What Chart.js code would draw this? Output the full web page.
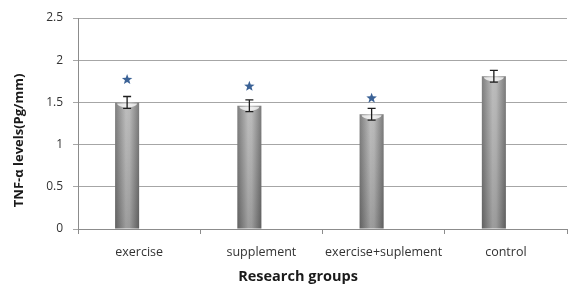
<!DOCTYPE html>
<html>
<head>
<meta charset="utf-8">
<script src="https://cdn.jsdelivr.net/npm/chart.js@4/dist/chart.umd.min.js"></script>
<style>
  html, body { margin: 0; padding: 0; background: #fff; }
  #wrap { width: 568px; height: 286px; }
</style>
</head>
<body>
<div id="wrap"><canvas id="tnfChart"></canvas></div>
<script>
const groups = ['exercise', 'supplement', 'exercise+suplement', 'control'];
const tnfLevels = [1.5, 1.46, 1.36, 1.81];
const tnfErrors = [0.07, 0.07, 0.07, 0.07];
const starLevels = [1.77, 1.69, 1.55, null];
const yTicks = [0, 0.5, 1, 1.5, 2, 2.5];

// error bars, stars and the bar shading
const barDecor = {
  id: 'barDecor',
  beforeDatasetsDraw(chart) {
    const c = chart.ctx;
    const meta = chart.getDatasetMeta(0);
    meta.data.forEach(function(bar) {
      const left = bar.x - bar.width / 2;
      const g = c.createLinearGradient(left, 0, left + bar.width, 0);
      g.addColorStop(0, '#707070');
      g.addColorStop(0.45, '#b6b6b6');
      g.addColorStop(0.6, '#b2b2b2');
      g.addColorStop(1, '#6c6c6c');
      bar.options.backgroundColor = g;
    });
  },
  afterDatasetsDraw(chart) {
    const c = chart.ctx;
    const y = chart.scales.y;
    const meta = chart.getDatasetMeta(0);
    c.save();
    meta.data.forEach(function(bar, i) {
      const left = bar.x - bar.width / 2;
      // darken toward the base
      const v = c.createLinearGradient(0, bar.y, 0, bar.base);
      v.addColorStop(0, 'rgba(255,255,255,0.1)');
      v.addColorStop(1, 'rgba(0,0,0,0.14)');
      c.fillStyle = v;
      c.fillRect(left, bar.y, bar.width, bar.base - bar.y);
      // light rim at the top
      c.fillStyle = 'rgba(255,255,255,0.75)';
      c.beginPath();
      c.ellipse(bar.x, bar.y + 1, bar.width / 2 - 2, 4, 0, 0, Math.PI);
      c.fill();

      // error bar
      const top = y.getPixelForValue(tnfLevels[i] + tnfErrors[i]);
      const bot = y.getPixelForValue(tnfLevels[i] - tnfErrors[i]);
      c.strokeStyle = '#1e1e1e';
      c.lineWidth = 1.3;
      c.beginPath();
      c.moveTo(bar.x, top); c.lineTo(bar.x, bot);
      c.moveTo(bar.x - 4, top); c.lineTo(bar.x + 4, top);
      c.moveTo(bar.x - 4, bot); c.lineTo(bar.x + 4, bot);
      c.stroke();

      // significance star
      if (starLevels[i] != null) {
        const sy = y.getPixelForValue(starLevels[i]);
        c.fillStyle = '#3b6296';
        c.beginPath();
        for (let k = 0; k < 10; k++) {
          const r = k % 2 === 0 ? 5.5 : 2.3;
          const a = -Math.PI / 2 + k * Math.PI / 5;
          const px = bar.x + r * Math.cos(a);
          const py = sy + r * Math.sin(a);
          if (k === 0) c.moveTo(px, py); else c.lineTo(px, py);
        }
        c.closePath();
        c.fill();
      }
    });
    c.restore();
  }
};

const ctx = document.getElementById('tnfChart').getContext('2d');

new Chart(ctx, {
  type: 'bar',
  data: {
    labels: groups,
    datasets: [
      {
        label: 'TNF-α',
        data: tnfLevels,
        // scriptable so every bar keeps its own options object
        backgroundColor: function() { return '#9a9a9a'; },
        borderWidth: 0,
        categoryPercentage: 0.393,
        barPercentage: 1
      },
      {
        label: 'blank',
        data: groups.map(function() { return null; }),
        backgroundColor: 'rgba(0,0,0,0)',
        categoryPercentage: 0.393,
        barPercentage: 1
      }
    ]
  },
  options: {
    responsive: true,
    maintainAspectRatio: false,
    animation: false,
    layout: { padding: { top: 18, right: 1, left: 0, bottom: 0 } },
    plugins: {
      legend: { display: false },
      tooltip: { enabled: false }
    },
    scales: {
      x: {
        grid: {
          offset: true,
          drawOnChartArea: false,
          drawTicks: true,
          tickLength: 5,
          color: '#8c8c8c'
        },
        border: { color: '#8c8c8c' },
        ticks: {
          color: '#333',
          padding: 11,
          maxRotation: 0,
          font: { family: 'Open Sans', size: 12.5 }
        },
        title: {
          display: true,
          // trailing spaces nudge the centred title left, as in the original
          text: 'Research groups' + ' '.repeat(13),
          color: '#1a1a1a',
          padding: { top: 0, bottom: 0 },
          font: { family: 'Open Sans', size: 14.5, weight: 'bold' }
        },
        afterFit: function(scale) { scale.height = 57; }
      },
      y: {
        min: 0,
        max: 2.5,
        afterBuildTicks: function(scale) {
          scale.ticks = yTicks.map(function(v) { return { value: v }; });
        },
        grid: {
          color: '#a6a6a6',
          tickLength: 5
        },
        border: { color: '#8c8c8c' },
        ticks: {
          color: '#333',
          padding: 10,
          font: { family: 'Open Sans', size: 12 },
          callback: function(value) { return String(value); }
        },
        title: {
          display: true,
          text: 'TNF-α levels(Pg/mm)' + ' '.repeat(10),
          color: '#1a1a1a',
          padding: { top: 11, bottom: 0 },
          font: { family: 'Open Sans', size: 13, weight: 'bold' }
        },
        afterFit: function(scale) { scale.width = 78; }
      }
    }
  },
  plugins: [barDecor]
});
</script>
</body>
</html>
